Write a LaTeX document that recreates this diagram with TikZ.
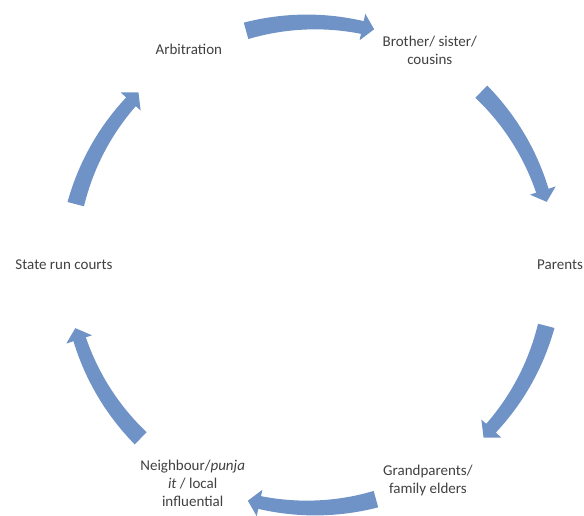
\documentclass[tikz,border=0pt]{standalone}
\usepackage{fontspec}
\setmainfont{Carlito}
\usetikzlibrary{calc}
\begin{document}
\begin{tikzpicture}[x=1pt,y=1pt]
\definecolor{arr}{RGB}{111,146,199}
\definecolor{txt}{RGB}{64,64,64}
\tikzset{lbl/.style={text=txt,font=\fontsize{15}{18}\selectfont,align=center,inner sep=0pt},
  carrow/.style={fill=arr,draw=none}}
\useasboundingbox (0,0) rectangle (584,516);
\coordinate (C) at (311,251);
\newcommand{\cyarrow}[1]{%
 \pgfmathsetmacro\ta{#1+15.5}\pgfmathsetmacro\tb{#1-15}\pgfmathsetmacro\th{#1-15+2.8}%
 \fill[carrow] plot[domain=\ta:\th, samples=25] (\x:{243+8.5-2*(\ta-\x)/(\ta-\th)})
   -- (\th:257) -- (\tb:244) -- (\th:230)
   -- plot[domain=\th:\ta, samples=25] (\x:{243-8.5+2*(\ta-\x)/(\ta-\th)}) -- cycle;}
\begin{scope}[shift={(C)}]
\cyarrow{90}
\cyarrow{30}
\cyarrow{-30}
\cyarrow{-90}
\cyarrow{-150}
\cyarrow{150}
\end{scope}
\node[lbl] (arb) at ($(C)+(119.5:248)$) {Arbitration};
\node[lbl] (bro) at ($(C)+(61:245)$) {Brother/ sister/\\cousins};
\node[lbl] (par) at ($(C)+(0:249)$) {Parents};
\node[lbl] (gra) at ($(C)+(-61.5:245)$) {Grandparents/\\family elders};
\node[lbl] (nei) at ($(C)+(-118.5:248)$) {Neighbour/\textit{punja}\\\textit{it} / local\\influential};
\node[lbl] (sta) at ($(C)+(180:247)$) {State run courts};
\end{tikzpicture}
\end{document}
